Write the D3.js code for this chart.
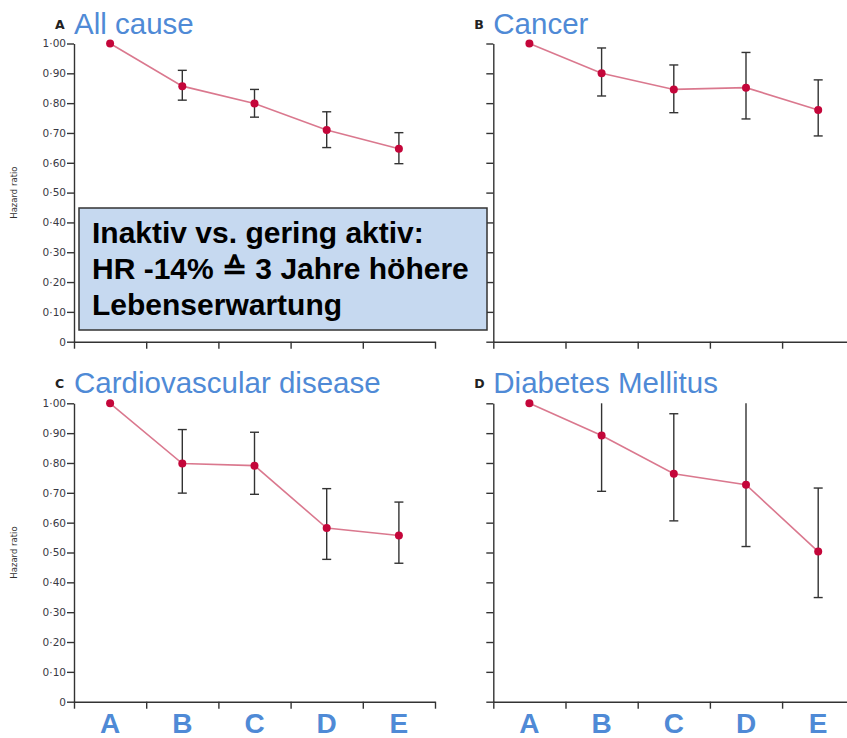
<!DOCTYPE html>
<html>
<head>
<meta charset="utf-8">
<script src="https://cdn.jsdelivr.net/npm/d3@7"></script>
<style>
  html, body { margin: 0; padding: 0; background: #fff; }
  svg { display: block; }
  .tick text { font-family: "DejaVu Sans", Verdana, sans-serif; }
</style>
</head>
<body>
<div id="chart"></div>
<script>
// categories (activity groups)
const groups = ["A", "B", "C", "D", "E"];
const yTicks = [0, 0.1, 0.2, 0.3, 0.4, 0.5, 0.6, 0.7, 0.8, 0.9, 1.0];

// hazard ratios with confidence intervals
const allCauseHR    = [1.00, 0.857, 0.799, 0.710, 0.647];
const allCauseLow   = [null, 0.810, 0.753, 0.651, 0.597];
const allCauseHigh  = [null, 0.910, 0.846, 0.771, 0.701];

const cancerHR      = [1.00, 0.900, 0.846, 0.852, 0.777];
const cancerLow     = [null, 0.824, 0.768, 0.747, 0.690];
const cancerHigh    = [null, 0.985, 0.928, 0.970, 0.878];

const cvdHR         = [1.00, 0.798, 0.791, 0.582, 0.557];
const cvdLow        = [null, 0.699, 0.695, 0.477, 0.464];
const cvdHigh       = [null, 0.912, 0.903, 0.714, 0.669];

const diabetesHR    = [1.00, 0.892, 0.764, 0.727, 0.503];
const diabetesLow   = [null, 0.705, 0.606, 0.520, 0.349];
const diabetesHigh  = [null, 1.11, 0.965, 1.03, 0.716];

const panels = [
    { letter: "A", title: "All cause", hr: allCauseHR, lo: allCauseLow, hi: allCauseHigh,
      left: 74, top: 43.5, bottom: 341.7, labels: true, xLabels: false },
    { letter: "B", title: "Cancer", hr: cancerHR, lo: cancerLow, hi: cancerHigh,
      left: 493.3, top: 43.5, bottom: 341.7, labels: false, xLabels: false },
    { letter: "C", title: "Cardiovascular disease", hr: cvdHR, lo: cvdLow, hi: cvdHigh,
      left: 74, top: 403.3, bottom: 701.7, labels: true, xLabels: true },
    { letter: "D", title: "Diabetes Mellitus", hr: diabetesHR, lo: diabetesLow, hi: diabetesHigh,
      left: 493.3, top: 403.3, bottom: 701.7, labels: false, xLabels: true }
];

const W = 847, H = 738;
const bandWidth = 72.2;
const blue = "#4f8ad6";

const svg = d3.select("#chart").append("svg")
    .attr("width", W)
    .attr("height", H);

const fmt = d => d === 0 ? "0" : d3.format(".2f")(d).replace(".", "\u00b7");

panels.forEach(p => {
    const g = svg.append("g");
    const xRange = [p.left, p.left + bandWidth * groups.length];

    const y = d3.scaleLinear().domain([0, 1]).range([p.bottom, p.top]);
    const xBand = d3.scaleBand().domain(groups).range(xRange);
    const xLin = d3.scaleLinear().domain([0, groups.length]).range(xRange);

    // y axis
    const yAxis = g.append("g")
        .attr("transform", `translate(${p.left},0)`)
        .call(d3.axisLeft(y).tickValues(yTicks).tickSize(7).tickSizeOuter(0)
            .tickFormat(p.labels ? fmt : ""));
    yAxis.selectAll("path, line").attr("stroke", "#333").attr("stroke-width", 1.4);
    yAxis.selectAll("text")
        .attr("fill", "#3a3a44")
        .style("font-size", "10.5px")
        .attr("x", -8);

    // x axis with ticks at band edges
    const xAxis = g.append("g")
        .attr("transform", `translate(0,${p.bottom})`)
        .call(d3.axisBottom(xLin).tickValues(d3.range(groups.length + 1))
            .tickSize(7).tickSizeOuter(0).tickFormat(""));
    xAxis.selectAll("path, line").attr("stroke", "#333").attr("stroke-width", 1.4);

    if (p.xLabels) {
        const lab = g.append("g")
            .attr("transform", `translate(0,${p.bottom})`)
            .call(d3.axisBottom(xBand).tickSize(0).tickPadding(0));
        lab.select(".domain").remove();
        lab.selectAll("text")
            .attr("dy", null)
            .attr("y", 31)
            .attr("fill", blue)
            .style("font-family", "'Liberation Sans', Arial, sans-serif")
            .style("font-weight", "bold")
            .style("font-size", "28px");
    }

    if (p.labels) {
        g.append("text")
            .attr("transform", `translate(17,${(p.top + p.bottom) / 2}) rotate(-90)`)
            .attr("text-anchor", "middle")
            .attr("fill", "#333")
            .style("font-family", "'DejaVu Sans', Verdana, sans-serif")
            .style("font-size", "8.5px")
            .text("Hazard ratio");
    }

    // panel letter and title
    g.append("text")
        .attr("x", p.left - 19)
        .attr("y", p.top - 15)
        .attr("fill", "#222")
        .style("font-family", "'DejaVu Sans', Verdana, sans-serif")
        .style("font-weight", "bold")
        .style("font-size", "12.5px")
        .text(p.letter);

    g.append("text")
        .attr("x", p.left)
        .attr("y", p.top - 10)
        .attr("fill", blue)
        .style("font-family", "'Liberation Sans', Arial, sans-serif")
        .style("font-size", "29.5px")
        .text(p.title);

    const pts = groups.map((k, i) => ({ k, hr: p.hr[i], lo: p.lo[i], hi: p.hi[i] }));
    const cx = d => xBand(d.k) + xBand.bandwidth() / 2;

    // connecting line
    g.append("path")
        .datum(pts)
        .attr("fill", "none")
        .attr("stroke", "#d4607a")
        .attr("stroke-opacity", 0.85)
        .attr("stroke-width", 1.6)
        .attr("d", d3.line().x(cx).y(d => y(d.hr)));

    // error bars, clipped at the top of the axis
    const ci = pts.filter(d => d.lo != null);
    const bars = g.selectAll(".ci").data(ci).enter().append("g").attr("class", "ci")
        .attr("stroke", "#333").attr("stroke-width", 1.4);
    bars.append("line")
        .attr("x1", cx).attr("x2", cx)
        .attr("y1", d => y(Math.min(d.hi, 1))).attr("y2", d => y(d.lo));
    bars.filter(d => d.hi <= 1).append("line")
        .attr("x1", d => cx(d) - 4.5).attr("x2", d => cx(d) + 4.5)
        .attr("y1", d => y(d.hi)).attr("y2", d => y(d.hi));
    bars.append("line")
        .attr("x1", d => cx(d) - 4.5).attr("x2", d => cx(d) + 4.5)
        .attr("y1", d => y(d.lo)).attr("y2", d => y(d.lo));

    // points
    g.selectAll(".pt").data(pts).enter().append("circle")
        .attr("class", "pt")
        .attr("cx", cx)
        .attr("cy", d => y(d.hr))
        .attr("r", 4)
        .attr("fill", "#c4063a");
});

// annotation box
const note = svg.append("g");
note.append("rect")
    .attr("x", 79).attr("y", 208)
    .attr("width", 408).attr("height", 122)
    .attr("fill", "#c6d9f0")
    .attr("stroke", "#333")
    .attr("stroke-width", 1.5);

const noteLines = ["Inaktiv vs. gering aktiv:", "HR -14% \u2259 3 Jahre h\u00f6here", "Lebenserwartung"];
note.selectAll("text").data(noteLines).enter().append("text")
    .attr("x", 92)
    .attr("y", (d, i) => 243 + i * 36)
    .attr("fill", "#000")
    .style("font-family", "'Liberation Sans', Arial, sans-serif")
    .style("font-weight", "bold")
    .style("font-size", "30px")
    .text(d => d);
</script>
</body>
</html>
